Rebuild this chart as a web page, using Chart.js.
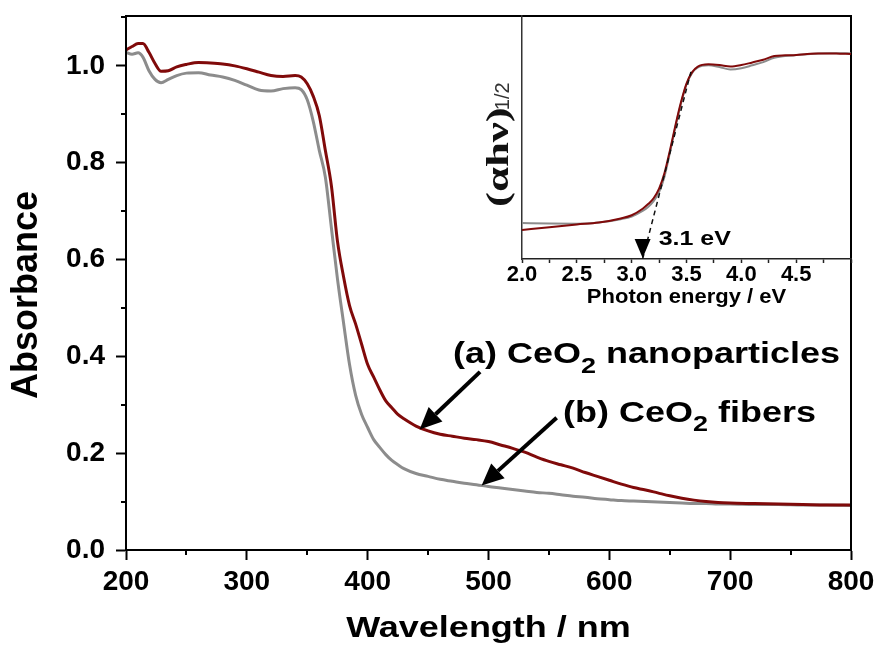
<!DOCTYPE html>
<html>
<head>
<meta charset="utf-8">
<script src="https://cdn.jsdelivr.net/npm/chart.js@4.4.1/dist/chart.umd.min.js"></script>
<style>
  body { margin: 0; background: #fff; }
  #wrap { position: relative; width: 879px; height: 646px; }
  #wrap canvas { position: absolute; left: 0; top: 0; }
</style>
</head>
<body>
<div id="wrap">
  <canvas id="main" width="879" height="646"></canvas>
  <canvas id="inset" width="879" height="646"></canvas>
</div>
<script>
// UV-vis absorbance spectra (nm)
const wavelength = [200, 205, 210, 214, 219, 224, 229, 235, 242, 250, 260, 270, 280, 290, 300, 310, 320, 330, 340, 345,
  350, 355, 360, 365, 370, 375, 380, 385, 390, 395, 400, 405, 410, 415, 420, 425, 430, 440, 450, 460,
  470, 480, 490, 500, 510, 520, 530, 540, 550, 560, 570, 580, 590, 600, 610, 620, 630, 640, 650, 660,
  670, 680, 690, 700, 720, 740, 760, 780, 800];
const absNano = [1.033, 1.040, 1.046, 1.046, 1.028, 1.005, 0.989, 0.990, 0.998, 1.003, 1.007, 1.006, 1.004, 1.000, 0.994, 0.987, 0.980, 0.978, 0.980, 0.977,
  0.963, 0.937, 0.897, 0.825, 0.752, 0.638, 0.565, 0.505, 0.467, 0.425, 0.383, 0.357, 0.331, 0.308, 0.294, 0.280, 0.271, 0.256, 0.246, 0.239,
  0.235, 0.231, 0.228, 0.224, 0.217, 0.210, 0.202, 0.192, 0.183, 0.176, 0.169, 0.160, 0.152, 0.144, 0.136, 0.129, 0.124, 0.118, 0.112, 0.107,
  0.103, 0.100, 0.098, 0.097, 0.096, 0.095, 0.094, 0.093, 0.093];
const absFiber = [1.028, 1.024, 1.027, 1.018, 0.990, 0.972, 0.965, 0.972, 0.980, 0.985, 0.986, 0.981, 0.977, 0.970, 0.960, 0.950, 0.948, 0.953, 0.955, 0.951,
  0.930, 0.885, 0.825, 0.770, 0.665, 0.560, 0.470, 0.383, 0.320, 0.280, 0.253, 0.228, 0.212, 0.197, 0.185, 0.176, 0.168, 0.158, 0.152, 0.146,
  0.142, 0.138, 0.135, 0.131, 0.128, 0.125, 0.122, 0.119, 0.117, 0.114, 0.111, 0.109, 0.106, 0.104, 0.102, 0.101, 0.100, 0.099, 0.098, 0.097,
  0.096, 0.096, 0.095, 0.095, 0.094, 0.094, 0.093, 0.093, 0.092];

// Tauc plot (eV), arbitrary units
const energy = [2.0, 2.25, 2.5, 2.7, 2.9, 3.0, 3.1, 3.15, 3.2, 3.25, 3.3, 3.35, 3.4, 3.45, 3.5, 3.55, 3.6, 3.7, 3.8, 3.9,
  4.0, 4.1, 4.2, 4.3, 4.4, 4.5, 4.6, 4.7, 4.8, 4.9, 5.0];
const taucNano = [0.119, 0.131, 0.142, 0.150, 0.167, 0.180, 0.207, 0.226, 0.250, 0.290, 0.355, 0.449, 0.552, 0.646, 0.722, 0.768, 0.791, 0.801, 0.798, 0.792,
  0.798, 0.809, 0.820, 0.835, 0.838, 0.840, 0.844, 0.846, 0.846, 0.845, 0.844];
const taucFiber = [0.148, 0.146, 0.145, 0.150, 0.164, 0.175, 0.198, 0.214, 0.238, 0.275, 0.340, 0.440, 0.545, 0.640, 0.718, 0.765, 0.787, 0.797, 0.790, 0.780,
  0.785, 0.797, 0.810, 0.828, 0.835, 0.839, 0.843, 0.846, 0.847, 0.847, 0.846];

const bandGap = 3.1;            // eV, where the tangent meets the baseline
const tangentTop = [3.54, 0.77];

const NANO = '#800a0a';
const FIBER = '#8c8c8c';
const SANS = '"Liberation Sans", Arial, sans-serif';
const SERIF = '"Liberation Serif", "Times New Roman", serif';

// callouts: text start (nm, abs) and arrow tail -> tip (nm, abs)
const callouts = [
  { at: [470.6, 0.386], parts: ['(a) CeO', '2', ' nanoparticles'], tail: [493, 0.368], tip: [443, 0.249] },
  { at: [561.6, 0.265], parts: ['(b) CeO', '2', ' fibers'], tail: [556.4, 0.273], tip: [494.3, 0.133] }
];

const pts = (xs, ys) => xs.map((x, i) => ({ x, y: ys[i] }));

// keep the plot box where it is set, whatever the label overhang
function pinX(h) {
  return s => { s.height = h; s.paddingLeft = 0; s.paddingRight = 0; };
}
function pinY(w) {
  return s => { s.width = w; s.paddingTop = 0; s.paddingBottom = 0; };
}

function drawParts(ctx, parts, x, y, sy, size, subSize) {
  ctx.save();
  ctx.translate(x, y);
  ctx.scale(1, sy);
  ctx.textAlign = 'left';
  ctx.textBaseline = 'alphabetic';
  let cx = 0;
  parts.forEach((t, i) => {
    const sub = i === 1;
    ctx.font = 'bold ' + (sub ? subSize : size) + 'px ' + SANS;
    ctx.fillText(t, cx, sub ? 12 : 0);
    cx += ctx.measureText(t).width;
  });
  ctx.restore();
}

function arrow(ctx, x0, y0, x1, y1) {
  const a = Math.atan2(y1 - y0, x1 - x0), head = 22, half = 10;
  const bx = x1 - head * Math.cos(a), by = y1 - head * Math.sin(a);
  ctx.lineWidth = 4;
  ctx.beginPath(); ctx.moveTo(x0, y0); ctx.lineTo(bx, by); ctx.stroke();
  ctx.beginPath();
  ctx.moveTo(x1, y1);
  ctx.lineTo(bx - half * Math.sin(a), by + half * Math.cos(a));
  ctx.lineTo(bx + half * Math.sin(a), by - half * Math.cos(a));
  ctx.closePath(); ctx.fill();
}

const mainDecor = {
  id: 'mainDecor',
  afterDraw(chart) {
    const { ctx, chartArea: a, scales: { x, y } } = chart;
    ctx.save();
    ctx.strokeStyle = '#000';
    ctx.fillStyle = '#000';
    // minor ticks
    ctx.lineWidth = 2;
    ctx.beginPath();
    for (let v = 250; v < 800; v += 100) {
      const px = Math.round(x.getPixelForValue(v));
      ctx.moveTo(px, a.bottom); ctx.lineTo(px, a.bottom + 5);
    }
    for (let v = 0.1; v < 1.1; v += 0.2) {
      const py = Math.round(y.getPixelForValue(v));
      ctx.moveTo(a.left, py); ctx.lineTo(a.left - 5, py);
    }
    ctx.stroke();
    // frame
    ctx.strokeRect(a.left, a.top, a.right - a.left, a.bottom - a.top);

    // axis titles
    ctx.save();
    ctx.translate(27, 295);
    ctx.rotate(-Math.PI / 2);
    ctx.font = 'bold 36px ' + SANS;
    ctx.textAlign = 'center';
    ctx.textBaseline = 'middle';
    ctx.fillText('Absorbance', 0, 0);
    ctx.restore();

    ctx.save();
    ctx.translate((a.left + a.right) / 2, 637);
    ctx.scale(1, 0.82);
    ctx.font = 'bold 36px ' + SANS;
    ctx.textAlign = 'center';
    ctx.fillText('Wavelength / nm', 0, 0);
    ctx.restore();

    // callouts
    callouts.forEach(c => {
      drawParts(ctx, c.parts, x.getPixelForValue(c.at[0]), y.getPixelForValue(c.at[1]), 0.8, 36, 27);
      arrow(ctx, x.getPixelForValue(c.tail[0]), y.getPixelForValue(c.tail[1]),
        x.getPixelForValue(c.tip[0]), y.getPixelForValue(c.tip[1]));
    });
    ctx.restore();
  }
};

new Chart(document.getElementById('main'), {
  type: 'line',
  data: {
    datasets: [
      { data: pts(wavelength, absNano), borderColor: NANO, borderWidth: 3 },
      { data: pts(wavelength, absFiber), borderColor: FIBER, borderWidth: 3 }
    ]
  },
  options: {
    responsive: false,
    animation: false,
    layout: { padding: { top: 16, right: 28, left: 0, bottom: 0 } },
    elements: { point: { radius: 0 }, line: { cubicInterpolationMode: 'monotone' } },
    plugins: { legend: { display: false }, tooltip: { enabled: false } },
    scales: {
      x: {
        type: 'linear', min: 200, max: 800,
        afterFit: pinX(96),
        ticks: { stepSize: 100, color: '#000', padding: 8, maxRotation: 0,
          font: { family: SANS, size: 28, weight: 'bold', lineHeight: 1 } },
        grid: { drawOnChartArea: false, tickLength: 10, tickWidth: 2, tickColor: '#000' },
        border: { color: '#000', width: 2 }
      },
      y: {
        type: 'linear', min: 0, max: 1.103,
        afterFit: pinY(126),
        ticks: { stepSize: 0.2, includeBounds: false, color: '#000', padding: 11,
          callback: v => v.toFixed(1),
          font: { family: SANS, size: 28, weight: 'bold', lineHeight: 1 } },
        grid: { drawOnChartArea: false, tickLength: 10, tickWidth: 2, tickColor: '#000' },
        border: { color: '#000', width: 2 }
      }
    }
  },
  plugins: [mainDecor]
});

const insetDecor = {
  id: 'insetDecor',
  afterDraw(chart) {
    const { ctx, scales: { x, y } } = chart;
    ctx.save();
    ctx.fillStyle = '#000';
    // arrowhead at the band gap
    const tx = x.getPixelForValue(bandGap), ty = y.getPixelForValue(0) - 1;
    ctx.beginPath();
    ctx.moveTo(tx, ty); ctx.lineTo(tx - 8, ty - 19); ctx.lineTo(tx + 8, ty - 19);
    ctx.closePath(); ctx.fill();

    ctx.save();
    ctx.translate(x.getPixelForValue(bandGap) + 16, 245);
    ctx.scale(1, 0.84);
    ctx.font = 'bold 25px ' + SANS;
    ctx.fillText(bandGap.toFixed(1) + ' eV', 0, 0);
    ctx.restore();

    // x title
    ctx.save();
    ctx.translate((chart.chartArea.left + chart.chartArea.right) / 2, 303);
    ctx.scale(1, 0.88);
    ctx.font = 'bold 22px ' + SANS;
    ctx.textAlign = 'center';
    ctx.fillText('Photon energy / eV', 0, 0);
    ctx.restore();

    // y title (αhν)^1/2
    ctx.save();
    ctx.translate(508, 207);
    ctx.rotate(-Math.PI / 2);
    ctx.fillStyle = '#111';
    ctx.save();
    ctx.scale(1.4, 1);
    ctx.font = 'bold 32px ' + SERIF;
    ctx.fillText('(αhν)', 0, 0);
    const w = ctx.measureText('(αhν)').width * 1.4;
    ctx.restore();
    ctx.font = '20px ' + SANS;
    ctx.fillStyle = '#333';
    ctx.fillText('1/2', w - 3, 1);
    ctx.restore();
    ctx.restore();
  }
};

new Chart(document.getElementById('inset'), {
  type: 'line',
  data: {
    datasets: [
      { data: [{ x: bandGap, y: 0 }, { x: tangentTop[0], y: tangentTop[1] }], borderColor: '#111',
        borderWidth: 1.5, borderDash: [5, 4], cubicInterpolationMode: 'default' },
      { data: pts(energy, taucNano), borderColor: NANO, borderWidth: 2 },
      { data: pts(energy, taucFiber), borderColor: FIBER, borderWidth: 2 }
    ]
  },
  options: {
    responsive: false,
    animation: false,
    layout: { padding: { top: 16, right: 28, left: 522, bottom: 0 } },
    elements: { point: { radius: 0 }, line: { cubicInterpolationMode: 'monotone' } },
    plugins: { legend: { display: false }, tooltip: { enabled: false } },
    scales: {
      x: {
        type: 'linear', min: 2, max: 5,
        afterFit: pinX(387),
        ticks: { stepSize: 0.25, autoSkip: false, color: '#000', padding: 1, maxRotation: 0,
          callback: v => (Math.abs(v * 2 - Math.round(v * 2)) < 1e-6 && v < 4.9 ? v.toFixed(1) : ''),
          font: { family: SANS, size: 22, weight: 'bold', lineHeight: 1 } },
        grid: { drawOnChartArea: false, tickLength: 4, tickWidth: 1.5, tickColor: '#222' },
        border: { color: '#222', width: 1.5 }
      },
      y: {
        type: 'linear', min: 0, max: 1,
        afterFit: pinY(0),
        ticks: { display: false },
        grid: { display: false },
        border: { color: '#333', width: 1.5 }
      }
    }
  },
  plugins: [insetDecor]
});
</script>
</body>
</html>
